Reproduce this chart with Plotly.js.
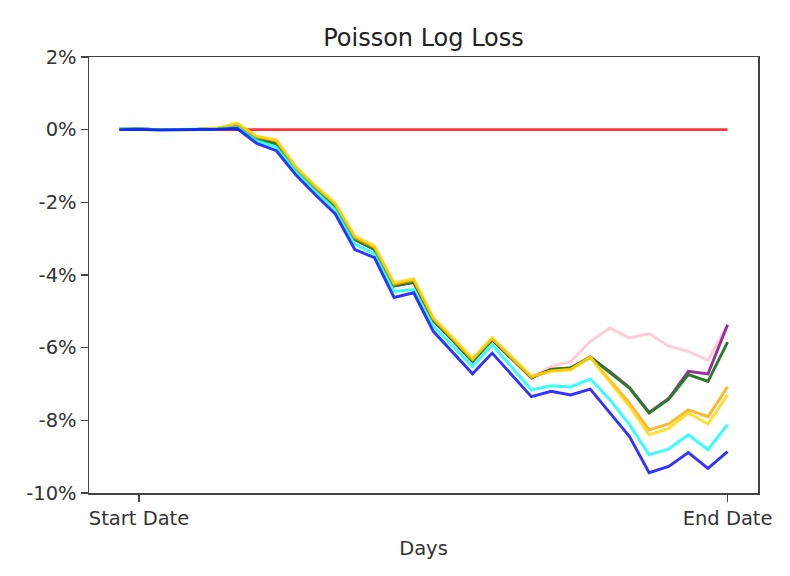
<!DOCTYPE html>
<html>
<head>
<meta charset="utf-8">
<script src="https://cdn.plot.ly/plotly-3.0.1.min.js"></script>
<style>html,body{margin:0;padding:0;background:#fff;}#chart{width:790px;height:576px;}</style>
</head>
<body>
<div id="chart"></div>
<script>
const days = [0,1,2,3,4,5,6,7,8,9,10,11,12,13,14,15,16,17,18,19,20,21,22,23,24,25,26,27,28,29,30,31];

const baseline = [0,0,0,0,0,0,0,0,0,0,0,0,0,0,0,0,0,0,0,0,0,0,0,0,0,0,0,0,0,0,0,0];
const blueVals = [0.00,0.01,-0.01,-0.01,0.00,0.01,0.03,-0.38,-0.58,-1.25,-1.80,-2.32,-3.30,-3.52,-4.62,-4.49,-5.55,-6.15,-6.72,-6.15,-6.75,-7.35,-7.20,-7.30,-7.14,-7.80,-8.45,-9.44,-9.27,-8.89,-9.32,-8.86];
const cyanVals = [0.01,0.02,0.00,0.00,0.01,0.02,0.06,-0.30,-0.48,-1.15,-1.70,-2.20,-3.15,-3.42,-4.45,-4.40,-5.41,-5.96,-6.52,-5.92,-6.55,-7.16,-7.05,-7.08,-6.86,-7.43,-8.12,-8.95,-8.79,-8.40,-8.81,-8.12];
const goldVals = [0.01,0.02,0.00,0.00,0.01,0.05,0.18,-0.18,-0.28,-1.02,-1.55,-2.02,-2.93,-3.20,-4.22,-4.10,-5.18,-5.73,-6.30,-5.73,-6.26,-6.79,-6.65,-6.60,-6.26,-6.95,-7.62,-8.40,-8.22,-7.80,-8.10,-7.30];
const orangeVals = [0.01,0.02,0.00,0.00,0.01,0.04,0.15,-0.20,-0.31,-1.05,-1.58,-2.05,-2.97,-3.24,-4.26,-4.14,-5.21,-5.76,-6.33,-5.75,-6.28,-6.81,-6.64,-6.60,-6.26,-6.88,-7.53,-8.26,-8.10,-7.71,-7.90,-7.08];
const greenVals = [0.01,0.02,0.00,0.00,0.01,0.03,0.10,-0.25,-0.38,-1.08,-1.62,-2.10,-3.02,-3.30,-4.30,-4.20,-5.25,-5.80,-6.38,-5.78,-6.30,-6.83,-6.60,-6.56,-6.26,-6.68,-7.11,-7.80,-7.42,-6.74,-6.93,-5.85];
const purpleVals = [0.01,0.02,0.00,0.00,0.01,0.03,0.10,-0.25,-0.38,-1.08,-1.62,-2.10,-3.02,-3.30,-4.30,-4.20,-5.25,-5.80,-6.38,-5.78,-6.30,-6.83,-6.60,-6.56,-6.26,-6.66,-7.10,-7.78,-7.40,-6.65,-6.72,-5.37];
const pinkVals = [0.01,0.02,0.00,0.00,0.01,0.03,0.10,-0.25,-0.38,-1.08,-1.62,-2.10,-3.02,-3.30,-4.30,-4.20,-5.25,-5.80,-6.38,-5.78,-6.30,-6.80,-6.52,-6.38,-5.83,-5.46,-5.73,-5.61,-5.96,-6.10,-6.35,-5.37];

const xTickVals = [1, 31];
const xTickText = ['Start Date', 'End Date'];
const yTickVals = [-10, -8, -6, -4, -2, 0, 2];
const yTickText = ['-10%', '-8%', '-6%', '-4%', '-2%', '0%', '2%'];

const series = [
  {y: baseline, color: 'rgba(255,0,0,0.8)'},
  {y: pinkVals, color: 'rgba(255,192,203,0.8)'},
  {y: purpleVals, color: 'rgba(128,0,128,0.8)'},
  {y: greenVals, color: 'rgb(42,124,42)'},
  {y: orangeVals, color: 'rgba(255,165,0,0.8)'},
  {y: goldVals, color: 'rgba(255,215,0,0.8)'},
  {y: cyanVals, color: 'rgba(0,255,255,0.8)'},
  {y: blueVals, color: 'rgba(0,0,255,0.8)'}
];

const traces = series.map(s => ({
  x: days, y: s.y, type: 'scatter', mode: 'lines',
  line: {color: s.color, width: 2.9},
  hoverinfo: 'skip', showlegend: false
}));

const font = {family: 'DejaVu Sans, sans-serif', size: 19.5, color: '#333'};

const layout = {
  width: 790, height: 576,
  margin: {l: 89, r: 32, t: 57, b: 83, pad: 0},
  paper_bgcolor: '#fff', plot_bgcolor: '#fff',
  font: font,
  showlegend: false,
  title: {text: 'Poisson Log Loss', font: {family: 'DejaVu Sans, sans-serif', size: 24, color: '#222'},
          x: 0.5, xref: 'paper', xanchor: 'center', y: 1 - 38/576, yref: 'container', yanchor: 'middle'},
  xaxis: {
    range: [-1.55, 32.55], tickmode: 'array', tickvals: xTickVals, ticktext: xTickText,
    ticks: 'outside', ticklen: 7, tickwidth: 1.3, tickcolor: '#444',
    showline: true, linecolor: '#444', linewidth: 1.5, mirror: true,
    showgrid: false, zeroline: false,
    tickfont: font,
    title: {text: 'Days', font: font, standoff: 12}
  },
  yaxis: {
    range: [-10, 2], tickmode: 'array', tickvals: yTickVals, ticktext: yTickText,
    ticks: 'outside', ticklen: 7, tickwidth: 1.3, tickcolor: '#444',
    showline: true, linecolor: '#444', linewidth: 1.5, mirror: true,
    showgrid: false, zeroline: false,
    tickfont: font
  }
};

Plotly.newPlot('chart', traces, layout, {displayModeBar: false, staticPlot: true});
</script>
</body>
</html>
